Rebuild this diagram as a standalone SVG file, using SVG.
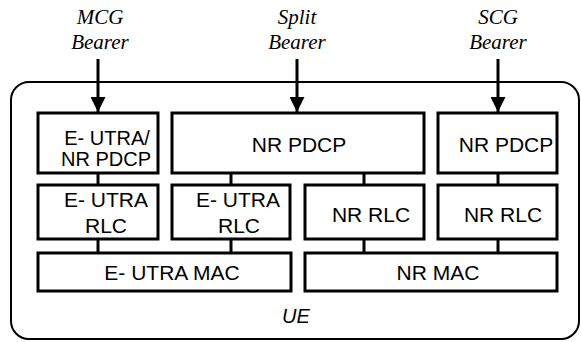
<svg xmlns="http://www.w3.org/2000/svg" width="581" height="342" viewBox="0 0 581 342">
<style>
.box{fill:#fff;stroke:#000;stroke-width:3}
.lbl{font-family:"Liberation Sans",Arial,sans-serif;font-size:21px;text-anchor:middle;fill:#000}
.brr{font-family:"Liberation Serif","Times New Roman",serif;font-style:italic;font-size:21px;text-anchor:middle;fill:#000}
.con{stroke:#000;stroke-width:3;fill:none}
</style>
<defs>
<marker id="ah" viewBox="0 0 10 10" refX="10" refY="5" markerWidth="5" markerHeight="5" markerUnits="strokeWidth" orient="auto">
<path d="M0,0 L10,5 L0,10 Z" fill="#000"/>
</marker>
</defs>
<g id="ue">
<rect x="11" y="82" width="568" height="257" rx="18" fill="none" stroke="#000" stroke-width="2"/>
<text x="296" y="323" style="font-family:'Liberation Sans',Arial,sans-serif;font-size:20px;font-style:italic" text-anchor="middle">UE</text>
</g>
<g id="connectors">
<line class="con" x1="98" y1="173" x2="98" y2="253"/>
<line class="con" x1="231" y1="173" x2="231" y2="253"/>
<line class="con" x1="364" y1="173" x2="364" y2="253"/>
<line class="con" x1="498" y1="173" x2="498" y2="253"/>
<line class="con" x1="98" y1="59" x2="98" y2="112" marker-end="url(#ah)"/>
<line class="con" x1="297" y1="59" x2="297" y2="112" marker-end="url(#ah)"/>
<line class="con" x1="498" y1="59" x2="498" y2="112" marker-end="url(#ah)"/>
</g>
<g id="mcg-bearer"><text class="brr" x="100" y="24">MCG</text><text class="brr" x="100" y="49">Bearer</text></g>
<g id="split-bearer"><text class="brr" x="297" y="24">Split</text><text class="brr" x="297" y="49">Bearer</text></g>
<g id="scg-bearer"><text class="brr" x="498" y="24">SCG</text><text class="brr" x="498" y="49">Bearer</text></g>
<g id="eutra-nr-pdcp"><rect class="box" x="38" y="113" width="120" height="60"/><text class="lbl" x="107" y="144.5" style="font-size:20px">E- UTRA/</text><text class="lbl" x="106" y="165.5" style="font-size:20px">NR PDCP</text></g>
<g id="split-nr-pdcp"><rect class="box" x="172" y="113" width="252" height="60"/><text class="lbl" x="299" y="151.5">NR PDCP</text></g>
<g id="scg-nr-pdcp"><rect class="box" x="438" y="113" width="119" height="60"/><text class="lbl" x="506" y="151.5">NR PDCP</text></g>
<g id="eutra-rlc-1"><rect class="box" x="38" y="185" width="120" height="54"/><text class="lbl" x="106" y="207">E- UTRA</text><text class="lbl" x="106" y="233">RLC</text></g>
<g id="eutra-rlc-2"><rect class="box" x="172" y="185" width="118" height="54"/><text class="lbl" x="238" y="207">E- UTRA</text><text class="lbl" x="239" y="233">RLC</text></g>
<g id="nr-rlc-1"><rect class="box" x="305" y="185" width="119" height="54"/><text class="lbl" x="371" y="222">NR RLC</text></g>
<g id="nr-rlc-2"><rect class="box" x="438" y="185" width="119" height="54"/><text class="lbl" x="503" y="222">NR RLC</text></g>
<g id="eutra-mac"><rect class="box" x="38" y="253" width="253" height="38"/><text class="lbl" x="172" y="280">E- UTRA MAC</text></g>
<g id="nr-mac"><rect class="box" x="305" y="253" width="252" height="38"/><text class="lbl" x="438" y="280">NR MAC</text></g>
</svg>
